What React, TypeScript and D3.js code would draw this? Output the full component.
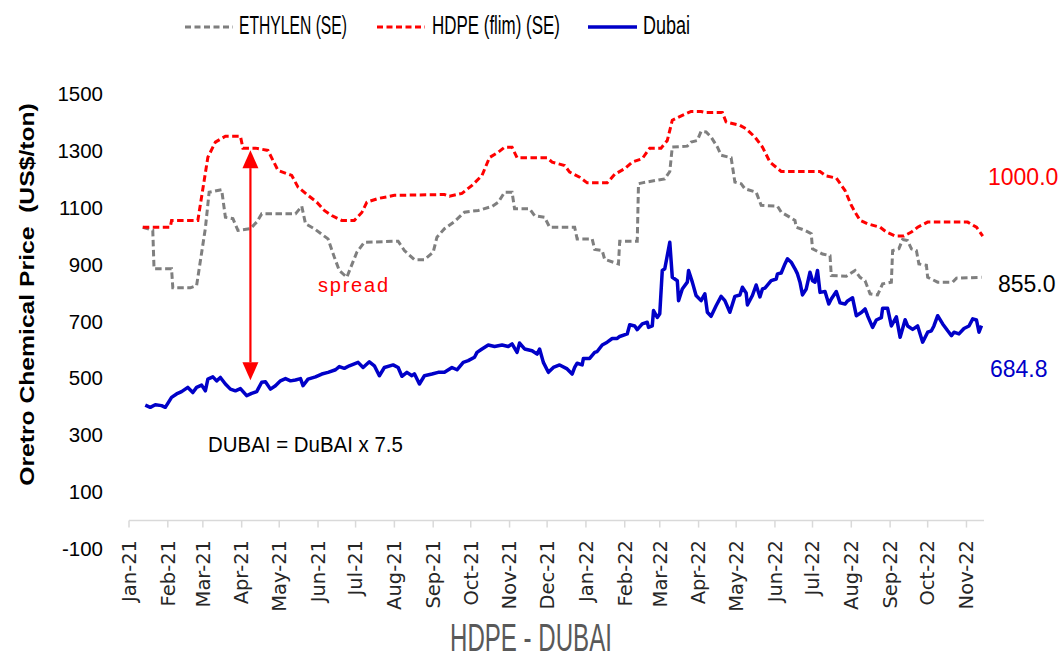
import React, { useLayoutEffect, useRef, useState } from "react";
import * as d3 from "d3";

const START = new Date(2021, 0, 1);
const END = new Date(2022, 10, 15);

const yTicks = [-100, 100, 300, 500, 700, 900, 1100, 1300, 1500];

// HDPE (flim) (SE) — day offsets from 1 Jan 2021 and prices
const hdpeDays = [11,33,34,55,63,69,77,89,91,101,111,119,130,135,143,150,156,162,170,180,186,190,199,212,252,256,266,274,282,288,295,300,306,310,334,338,348,352,360,366,382,388,396,402,410,416,425,430,434,442,449,457,461,474,477,488,493,500,506,512,521,552,557,565,572,577,580,584,590,600,605,612,619,625,630,638,670,677,682];
const hdpeValues = [1031,1031,1055,1055,1277,1330,1351,1351,1309,1309,1301,1231,1213,1172,1143,1119,1090,1072,1055,1055,1083,1119,1132,1143,1146,1140,1150,1178,1213,1276,1295,1312,1312,1275,1275,1260,1248,1225,1207,1187,1187,1217,1237,1260,1272,1309,1309,1336,1407,1424,1438,1438,1434,1434,1401,1389,1377,1348,1313,1260,1227,1227,1211,1204,1160,1108,1084,1055,1043,1031,1014,1000,1000,1014,1031,1049,1049,1031,1000];

// ETHYLEN (SE)
const ethDays = [11,19,20,34,35,49,54,61,64,74,77,83,87,97,102,106,133,138,141,148,159,164,168,174,182,188,215,220,228,236,243,246,252,260,268,279,290,295,300,306,308,320,324,332,336,356,358,370,372,378,380,391,392,406,407,410,428,432,434,446,449,454,457,461,465,470,473,481,484,489,492,501,505,518,521,528,532,533,540,545,546,554,560,561,573,580,584,588,592,598,602,609,610,615,618,622,625,629,631,637,638,646,658,661,681];
const ethValues = [1031,1020,885,885,818,818,826,1027,1154,1163,1066,1061,1020,1026,1049,1078,1078,1105,1043,1026,990,926,879,855,943,978,982,949,917,917,943,996,1026,1051,1084,1090,1104,1119,1154,1154,1096,1096,1072,1066,1031,1031,990,990,953,949,918,902,982,982,1184,1187,1201,1227,1313,1316,1330,1336,1368,1366,1348,1313,1284,1275,1190,1184,1166,1154,1108,1105,1084,1066,1055,1031,1020,1008,955,937,931,861,859,879,855,843,797,793,832,838,949,955,988,984,955,949,902,897,855,838,838,852,855];

// Dubai (x 7.5)
const dubaiDays = [13,17,21,26,29,34,38,42,47,51,54,58,61,63,67,70,73,77,81,85,89,94,98,102,106,109,113,117,121,125,129,133,137,139,143,149,154,159,165,168,172,176,183,187,192,196,200,204,211,215,218,222,226,228,232,236,242,247,252,258,262,267,271,276,278,282,287,292,298,303,306,310,312,316,322,326,328,331,335,339,344,350,354,356,358,362,363,368,372,374,378,382,386,390,392,398,400,404,406,410,414,415,418,419,422,424,426,428,432,434,438,439,442,446,447,450,453,457,460,462,465,469,473,476,480,484,488,490,493,494,498,501,504,506,508,513,517,518,521,524,526,529,532,534,536,538,541,544,546,548,550,552,556,559,561,565,568,572,574,578,581,585,588,590,594,597,601,602,606,609,613,616,620,622,626,630,634,638,641,643,646,650,654,657,659,663,667,671,674,677,679,681];
const dubaiValues = [406,398,407,404,398,433,445,453,468,450,468,476,456,497,505,491,503,480,462,456,464,439,447,453,486,488,462,474,491,499,491,494,499,474,497,505,515,521,530,541,535,544,556,538,558,544,509,538,547,538,507,521,509,516,480,509,515,521,521,538,530,556,562,574,591,603,617,612,617,612,621,591,624,603,597,585,603,556,521,538,547,533,515,538,553,547,570,570,591,594,617,627,640,640,647,656,688,684,671,691,697,679,684,738,714,727,879,885,978,855,843,773,814,838,879,838,791,773,797,732,718,755,788,773,732,788,793,820,800,758,791,828,786,814,817,843,849,867,870,902,920,908,885,867,838,793,814,873,843,838,879,802,805,761,779,805,765,761,772,783,720,731,744,720,679,705,713,746,746,684,716,644,706,684,672,684,627,662,667,684,720,691,667,650,662,656,675,684,709,705,662,684.8];

const seriesNames = ["ETHYLEN (SE)", "HDPE (flim) (SE)", "Dubai"];
const seriesColors = ["#7f7f7f", "#ff0000", "#0000c8"];

// annotation: spread arrow between HDPE and Dubai at early April 2021
const arrowDay = 97;
const arrowTop = 1302;
const arrowBottom = 493;

type Pt = { date: Date; value: number };
const build = (days: number[], vals: number[]): Pt[] =>
  d3.range(Math.min(days.length, vals.length)).map((i) => ({
    date: d3.timeDay.offset(START, days[i]),
    value: vals[i],
  }));

const narrow = "'Liberation Sans',Arial,sans-serif";
const sans = "'Liberation Sans',Arial,sans-serif";

type FitProps = {
  x: number;
  y: number;
  width: number;
  fontSize: number;
  fill: string;
  text: string;
  weight?: string;
  rotate?: number;
  anchor?: "start" | "middle" | "end";
  family?: string;
};

// text squeezed horizontally (along reading direction) to a given width
function FitText({ x, y, width, fontSize, fill, text, weight, rotate, anchor, family }: FitProps) {
  const ref = useRef<SVGTextElement>(null);
  const [sx, setSx] = useState(1);
  useLayoutEffect(() => {
    if (ref.current) {
      const w = ref.current.getComputedTextLength();
      if (w > 0) setSx(width / w);
    }
  }, [width, text, fontSize]);
  const rot = rotate ? ` rotate(${rotate})` : "";
  return (
    <text
      ref={ref}
      transform={`translate(${x},${y})${rot} scale(${sx},1)`}
      fontFamily={family || narrow}
      fontSize={fontSize}
      fontWeight={weight}
      fill={fill}
      textAnchor={anchor || "start"}
      style={{ whiteSpace: "pre" }}
    >
      {text}
    </text>
  );
}

export default function App() {
  const W = 1064;
  const H = 659;
  const x = d3.scaleTime().domain([START, END]).range([129, 984]);
  const y = d3.scaleLinear().domain([-100, 1500]).range([549, 93.8]);

  const eth = build(ethDays, ethValues);
  const hdpe = build(hdpeDays, hdpeValues);
  const dubai = build(dubaiDays, dubaiValues);

  const line = d3
    .line<Pt>()
    .x((d) => x(d.date))
    .y((d) => y(d.value));

  const months = d3.timeMonth.range(START, END);
  const fmt = d3.timeFormat("%b-%y");
  const y0 = y(0);

  const ax = x(d3.timeDay.offset(START, arrowDay));
  const aTop = y(arrowTop);
  const aBot = y(arrowBottom);
  const head = 18;
  const hw = 8;

  const lastEth = ethValues[ethValues.length - 1];
  const lastHdpe = hdpeValues[hdpeValues.length - 1];
  const lastDubai = dubaiValues[dubaiValues.length - 1];
  const f1 = d3.format(".1f");

  const legend = [
    { x1: 185, x2: 233, tx: 239, tl: 108, dash: "6,3.5" },
    { x1: 377, x2: 425, tx: 432, tl: 128, dash: "6,3.5" },
    { x1: 588, x2: 637, tx: 643, tl: 47, dash: undefined },
  ];

  return (
    <svg
      width={W}
      height={H}
      viewBox={`0 0 ${W} ${H}`}
      style={{ position: "absolute", left: 0, top: 0, background: "#fff" }}
    >
      <rect x={0} y={0} width={W} height={H} fill="#fff" />

      {/* legend */}
      {legend.map((l, i) => (
        <g key={i}>
          <line
            x1={l.x1}
            x2={l.x2}
            y1={27}
            y2={27}
            stroke={seriesColors[i]}
            strokeWidth={i === 2 ? 3.5 : 3}
            strokeDasharray={l.dash}
          />
          <FitText x={l.tx} y={34} width={l.tl} fontSize={25} fill="#000" text={seriesNames[i]} />
        </g>
      ))}

      {/* y axis labels */}
      {yTicks.map((t) => (
        <text
          key={t}
          x={103}
          y={y(t)}
          dy="0.35em"
          textAnchor="end"
          fontFamily={sans}
          fontSize={20.5}
          fill="#000"
        >
          {t}
        </text>
      ))}

      <FitText
        x={33.5}
        y={294.5}
        rotate={-90}
        anchor="middle"
        weight="bold"
        fontSize={21}
        fill="#000"
        width={383}
        text="Oretro Chemical Price  (US$/ton)"
      />

      {/* x axis */}
      <line x1={129} x2={984} y1={y0} y2={y0} stroke="#d9d9d9" strokeWidth={1.5} />
      {months.map((m) => (
        <g key={+m}>
          <line x1={x(m)} x2={x(m)} y1={y0} y2={y0 + 7} stroke="#d9d9d9" strokeWidth={1.5} />
          <text
            transform={`translate(${x(m)},540) rotate(-90)`}
            textAnchor="end"
            dy="0.35em"
            fontFamily="'DejaVu Sans',Verdana,sans-serif"
            fontSize={19.5}
            fill="#262626"
          >
            {fmt(m)}
          </text>
        </g>
      ))}

      {/* series */}
      <path d={line(eth) || ""} fill="none" stroke={seriesColors[0]} strokeWidth={3} strokeDasharray="6.5,3.5" />
      <path d={line(hdpe) || ""} fill="none" stroke={seriesColors[1]} strokeWidth={3} strokeDasharray="6.5,3.5" />
      <path d={line(dubai) || ""} fill="none" stroke={seriesColors[2]} strokeWidth={3.5} strokeLinejoin="round" />

      {/* spread arrow */}
      <line x1={ax} x2={ax} y1={aTop + head} y2={aBot - head} stroke="#ff0000" strokeWidth={2.2} />
      <path d={`M${ax},${aTop} L${ax - hw},${aTop + head} L${ax + hw},${aTop + head} Z`} fill="#ff0000" />
      <path d={`M${ax},${aBot} L${ax - hw},${aBot - head} L${ax + hw},${aBot - head} Z`} fill="#ff0000" />

      <text x={318} y={292} fontFamily={sans} fontSize={20} fill="#ff0000" textLength={70} lengthAdjust="spacing">
        spread
      </text>

      <FitText x={208} y={452} width={195} fontSize={22} fill="#000" text="DUBAI = DuBAI x 7.5" />

      {/* end labels */}
      <text x={988} y={185} fontFamily={sans} fontSize={23} fill="#ff0000">
        {f1(lastHdpe)}
      </text>
      <text x={998} y={292} fontFamily={sans} fontSize={23} fill="#000">
        {f1(lastEth)}
      </text>
      <text x={990} y={377} fontFamily={sans} fontSize={23} fill="#0000c8">
        {f1(lastDubai)}
      </text>

      {/* bottom title */}
      <FitText x={450} y={651} width={162} fontSize={38} fill="#595959" text="HDPE - DUBAI" />
    </svg>
  );
}
